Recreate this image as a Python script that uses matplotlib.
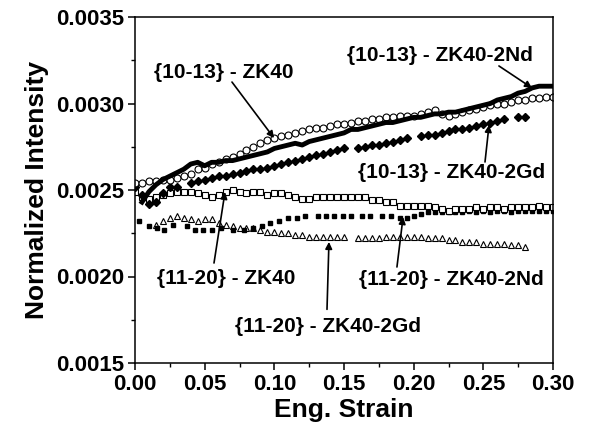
import numpy as np
import matplotlib
matplotlib.use("Agg")
import matplotlib.pyplot as plt
from matplotlib.ticker import MultipleLocator

plt.rcParams['font.family'] = ['Liberation Sans', 'DejaVu Sans']
plt.rcParams['font.weight'] = 'bold'

nan = np.nan
# strain grid (0.005 step)
x_grid = [round(0.005 * i, 3) for i in range(61)]

# {10-13} - ZK40 (open circles)
y_1013_zk40 = [0.00254, 0.00254, 0.00255, 0.00255, 0.00256, 0.00256, 0.00257, 0.00258, 0.00259, 0.00262,
               0.00263, 0.00265, 0.00266, 0.00268, 0.00269, 0.00271, 0.00273, 0.00275, 0.00277, 0.00279,
               0.00280, 0.00281, 0.00282, 0.00283, 0.00284, 0.00285, 0.00286, 0.00286, 0.00287, 0.00288,
               0.00288, 0.00289, 0.00290, 0.00290, 0.00291, 0.00291, 0.00292, 0.00292, 0.00293, 0.00293,
               0.00293, 0.00294, 0.00295, 0.00296, 0.00294, 0.00293, 0.00294, 0.00295, 0.00296, 0.00297,
               0.00298, 0.00299, 0.00300, 0.00300, 0.00301, 0.00302, 0.00302, 0.00303, 0.00303, 0.00304,
               0.00304]

# {10-13} - ZK40-2Nd (thick line), starts at 0.005
y_1013_nd = [nan, 0.00243, 0.00249, 0.00253, 0.00256, 0.00258, 0.00260, 0.00262, 0.00265, 0.00266,
             0.00264, 0.00266, 0.00266, 0.00267, 0.00267, 0.00268, 0.00269, 0.00270, 0.00271, 0.00272,
             0.00274, 0.00275, 0.00276, 0.00277, 0.00276, 0.00278, 0.00279, 0.00280, 0.00281, 0.00282,
             0.00283, 0.00285, 0.00285, 0.00286, 0.00287, 0.00288, 0.00289, 0.00289, 0.00290, 0.00291,
             0.00292, 0.00292, 0.00293, 0.00294, 0.00294, 0.00295, 0.00295, 0.00296, 0.00297, 0.00298,
             0.00299, 0.00300, 0.00302, 0.00303, 0.00304, 0.00306, 0.00307, 0.00309, 0.00310, 0.00310,
             0.00310]

# {10-13} - ZK40-2Gd (filled diamonds), ends at 0.28
y_1013_gd = [0.00252, 0.00247, 0.00242, 0.00243, 0.00248, 0.00252, 0.00252, nan, 0.00254, 0.00255,
             0.00256, 0.00257, 0.00258, 0.00258, 0.00259, 0.00260, 0.00261, 0.00262, 0.00262, 0.00263,
             0.00264, 0.00265, 0.00266, 0.00267, 0.00268, 0.00269, 0.00270, 0.00271, 0.00272, 0.00273,
             0.00274, nan, 0.00274, 0.00275, 0.00276, 0.00276, 0.00277, 0.00278, 0.00279, 0.00280,
             nan, 0.00281, 0.00282, 0.00282, 0.00283, 0.00284, 0.00285, 0.00285, 0.00286, 0.00287,
             0.00288, 0.00289, 0.00290, 0.00291, nan, 0.00292, 0.00292, nan, nan, nan,
             nan]

# {11-20} - ZK40 (open squares)
y_1120_zk40 = [0.00249, 0.00246, 0.00245, 0.00246, 0.00247, 0.00248, 0.00249, 0.00249, 0.00249, 0.00248,
               0.00247, 0.00246, 0.00247, 0.00249, 0.00250, 0.00249, 0.00248, 0.00249, 0.00249, 0.00247,
               0.00248, 0.00248, 0.00247, 0.00246, 0.00245, 0.00245, 0.00246, 0.00246, 0.00246, 0.00246,
               0.00246, 0.00246, 0.00246, 0.00246, 0.00244, 0.00244, 0.00243, 0.00243, 0.00241, 0.00241,
               0.00241, 0.00241, 0.00241, 0.00240, 0.00239, 0.00238, 0.00239, 0.00239, 0.00239, 0.00240,
               0.00239, 0.00240, 0.00240, 0.00239, 0.00240, 0.00240, 0.00240, 0.00240, 0.00241, 0.00240,
               0.00240]

# {11-20} - ZK40-2Nd (small filled squares)
x_1120_nd = [0.003, 0.010, 0.016, 0.021, 0.027, 0.037, 0.043, 0.049, 0.055, 0.062, 0.070, 0.078, 0.085,
             0.091, 0.097, 0.103, 0.110, 0.116, 0.122, 0.131, 0.137, 0.143, 0.149, 0.155, 0.163, 0.169,
             0.177, 0.184, 0.190, 0.195, 0.200, 0.205, 0.210, 0.215, 0.220, 0.225, 0.230, 0.235, 0.240,
             0.245, 0.250, 0.255, 0.260, 0.265, 0.270, 0.275, 0.280, 0.285, 0.290, 0.295, 0.300]
y_1120_nd = [0.00232, 0.00229, 0.00228, 0.00227, 0.00230, 0.00229, 0.00227, 0.00227, 0.00227, 0.00228,
             0.00227, 0.00227, 0.00228, 0.00229, 0.00231, 0.00232, 0.00234, 0.00234, 0.00235, 0.00235,
             0.00235, 0.00235, 0.00235, 0.00235, 0.00235, 0.00235, 0.00235, 0.00235, 0.00234, 0.00234,
             0.00235, 0.00236, 0.00237, 0.00237, 0.00237, 0.00237, 0.00237, 0.00237, 0.00238, 0.00237,
             0.00238, 0.00237, 0.00238, 0.00238, 0.00237, 0.00238, 0.00238, 0.00238, 0.00238, 0.00238,
             0.00238]

# {11-20} - ZK40-2Gd (open triangles), 0.015 .. 0.28
y_1120_gd = [nan, nan, nan, 0.00230, 0.00232, 0.00234, 0.00235, 0.00234, 0.00233, 0.00232,
             0.00233, 0.00233, 0.00231, 0.00230, 0.00229, 0.00228, 0.00228, 0.00228, 0.00227, 0.00226,
             0.00226, 0.00225, 0.00225, 0.00224, 0.00224, 0.00223, 0.00223, 0.00223, 0.00223, 0.00223,
             0.00223, nan, 0.00222, 0.00222, 0.00222, 0.00222, 0.00223, 0.00223, 0.00223, 0.00223,
             0.00223, 0.00223, 0.00222, 0.00222, 0.00222, 0.00221, 0.00221, 0.00220, 0.00220, 0.00220,
             0.00219, 0.00219, 0.00219, 0.00219, 0.00218, 0.00218, 0.00217, nan, nan, nan,
             nan]

x_ticks = [0.00, 0.05, 0.10, 0.15, 0.20, 0.25, 0.30]
y_ticks = [0.0015, 0.0020, 0.0025, 0.0030, 0.0035]

# annotations: label, text centre, arrow start, arrow tip
labels = ['{10-13} - ZK40', '{10-13} - ZK40-2Nd', '{10-13} - ZK40-2Gd',
          '{11-20} - ZK40', '{11-20} - ZK40-2Nd', '{11-20} - ZK40-2Gd']
label_pos = [(0.0639, 0.00318), (0.2189, 0.00328), (0.2275, 0.00260),
             (0.0653, 0.00199), (0.2268, 0.00198), (0.1385, 0.00171)]
arrow_from = [(0.0696, 0.003124), (0.2612, 0.003217), (0.2512, 0.002662),
              (0.0567, 0.002078), (0.1880, 0.002055), (0.1378, 0.00181)]
arrow_to = [(0.0998, 0.00280), (0.2849, 0.00309), (0.2541, 0.002876),
            (0.0646, 0.002489), (0.1924, 0.002344), (0.1392, 0.00220)]

fig = plt.figure(figsize=(5.89, 4.36), dpi=100)
ax = fig.add_axes([135/589, 1-363/436, (553-135)/589, (363-17)/436])

ax.plot(x_grid, y_1120_gd, ls='none', marker='^', ms=5, mfc='white', mec='black', mew=0.8)
ax.plot(x_1120_nd, y_1120_nd, ls='none', marker='s', ms=2.3, mfc='black', mec='black')
ax.plot(x_grid, y_1120_zk40, ls='none', marker='s', ms=4.5, mfc='white', mec='black', mew=0.8)
ax.plot(x_grid, y_1013_gd, ls='none', marker='D', ms=4, mfc='black', mec='black')
ax.plot(x_grid, y_1013_zk40, ls='none', marker='o', ms=5, mfc='white', mec='black', mew=0.8)
ax.plot(x_grid, y_1013_nd, color='black', lw=3.5)

ax.set_xlim(0.0, 0.30)
ax.set_ylim(0.0015, 0.0035)
ax.set_xticks(x_ticks)
ax.set_xticklabels([f"{v:.2f}" for v in x_ticks])
ax.set_yticks(y_ticks)
ax.set_yticklabels([f"{v:.4f}" for v in y_ticks])
ax.xaxis.set_minor_locator(MultipleLocator(0.025))
ax.yaxis.set_minor_locator(MultipleLocator(0.00025))
ax.tick_params(which='major', direction='out', length=5, width=1.1, labelsize=16, pad=3)
ax.tick_params(which='minor', direction='out', length=3, width=1.0)
for lab in ax.get_xticklabels() + ax.get_yticklabels():
    lab.set_fontweight('bold')
for sp in ax.spines.values():
    sp.set_linewidth(1.1)

ax.set_xlabel('Eng. Strain', fontsize=19, fontweight='bold', labelpad=2)
ax.set_ylabel('Normalized Intensity', fontsize=19, fontweight='bold', labelpad=5)

arrow = dict(arrowstyle='-|>', color='black', lw=1.2, mutation_scale=10, shrinkA=0, shrinkB=0)
for lab, tp, a0, a1 in zip(labels, label_pos, arrow_from, arrow_to):
    ax.text(tp[0], tp[1], lab, ha='center', va='center', fontsize=15, fontweight='bold')
    ax.annotate('', xy=a1, xytext=a0, arrowprops=arrow)

fig.savefig('out.png', dpi=100)
